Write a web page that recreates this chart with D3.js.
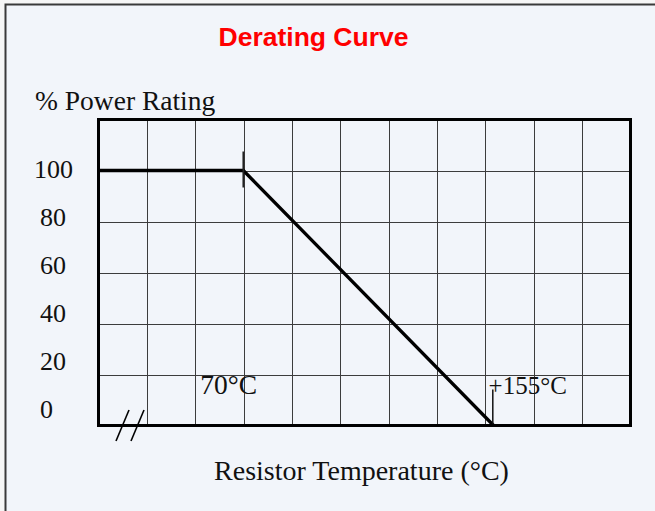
<!DOCTYPE html>
<html>
<head>
<meta charset="utf-8">
<script src="https://cdn.jsdelivr.net/npm/d3@7"></script>
<style>
  html, body { margin: 0; padding: 0; background: #f6f6f6; }
  svg { display: block; }
</style>
</head>
<body>
<script>
// ---- data ----
const title = "Derating Curve";
const yAxisTitle = "% Power Rating";
const xAxisTitle = "Resistor Temperature (°C)";
const yTickValues = [0, 20, 40, 60, 80, 100];
const yTickLabels = ["0", "20", "40", "60", "80", "100"];
const curveTemps = [20.8, 70, 155];
const curvePower = [100, 100, 0];
const markerTemps = [70, 155];
const markerLabels = ["70°C", "+155°C"];
const xDomain = [20.8, 201.5];
const yDomain = [0, 120];
const gridColumns = 11;

// ---- layout ----
const W = 655, H = 511;
const plot = { left: 98.5, right: 630.5, top: 119.5, bottom: 425.5 };

const svg = d3.select("body").append("svg")
  .attr("width", W).attr("height", H);

// outer panel
svg.append("rect")
  .attr("x", 5.5).attr("y", 4.5).attr("width", W + 10).attr("height", H + 10)
  .attr("fill", "#f2f5fa").attr("stroke", "#3a3a3a").attr("stroke-width", 2);

const x = d3.scaleLinear().domain(xDomain).range([plot.left, plot.right]);
const y = d3.scaleLinear().domain(yDomain).range([plot.bottom, plot.top]);
const col = d3.scaleLinear().domain([0, gridColumns]).range([plot.left, plot.right]);
// tick label placement scale (labels sit on a slightly tighter spacing than the grid)
const yLabel = d3.scaleLinear().domain([0, 100]).range([418, 178]);

// title
svg.append("text")
  .attr("x", 313.5).attr("y", 46)
  .attr("text-anchor", "middle")
  .attr("font-family", "'Liberation Sans', Arial, sans-serif")
  .attr("font-weight", "bold").attr("font-size", 26.5)
  .attr("fill", "#ff0000")
  .text(title);

// y axis title
svg.append("text")
  .attr("x", 35).attr("y", 110)
  .attr("font-family", "'Liberation Serif', 'Times New Roman', serif")
  .attr("font-size", 27.5).attr("fill", "#111")
  .text(yAxisTitle);

// grid
const g = svg.append("g");
g.selectAll("line.vg").data(d3.range(1, gridColumns))
  .join("line").attr("class", "vg")
  .attr("x1", d => Math.round(col(d)) + 0.5).attr("x2", d => Math.round(col(d)) + 0.5)
  .attr("y1", plot.top).attr("y2", plot.bottom)
  .attr("stroke", "#3c3c3c").attr("stroke-width", 1);

g.selectAll("line.hg").data(d3.range(20, yDomain[1], 20))
  .join("line").attr("class", "hg")
  .attr("y1", d => Math.round(y(d)) + 0.5).attr("y2", d => Math.round(y(d)) + 0.5)
  .attr("x1", plot.left).attr("x2", plot.right)
  .attr("stroke", "#3c3c3c").attr("stroke-width", 1);

// y tick labels
svg.selectAll("text.yl").data(yTickValues)
  .join("text").attr("class", "yl")
  .attr("x", 40).attr("y", d => yLabel(d))
  .attr("dx", (d, i) => yTickLabels[i].length > 2 ? -6 : 0)
  .attr("text-anchor", "start")
  .attr("font-family", "'Liberation Serif', 'Times New Roman', serif")
  .attr("font-size", 26).attr("fill", "#111")
  .text((d, i) => yTickLabels[i]);

// curve
const pts = curveTemps.map((t, i) => [t, curvePower[i]]);
svg.append("path")
  .datum(pts)
  .attr("d", d3.line().x(d => x(d[0])).y(d => y(d[1])))
  .attr("fill", "none").attr("stroke", "#000")
  .attr("stroke-width", 3.3).attr("stroke-linejoin", "miter");

// marker ticks
svg.append("line")
  .attr("x1", x(markerTemps[0])).attr("x2", x(markerTemps[0]))
  .attr("y1", y(100) - 19).attr("y2", y(100) + 17)
  .attr("stroke", "#222").attr("stroke-width", 1.8);
svg.append("line")
  .attr("x1", x(markerTemps[1]) - 0.8).attr("x2", x(markerTemps[1]) - 0.8)
  .attr("y1", y(0) - 36).attr("y2", y(0))
  .attr("stroke", "#111").attr("stroke-width", 1.5);

// marker labels
svg.append("text")
  .attr("x", x(markerTemps[0]) - 43).attr("y", 394)
  .attr("font-family", "'Liberation Serif', 'Times New Roman', serif")
  .attr("font-size", 27.5).attr("fill", "#111")
  .text(markerLabels[0]);
svg.append("text")
  .attr("x", x(markerTemps[1]) - 5).attr("y", 394)
  .attr("font-family", "'Liberation Serif', 'Times New Roman', serif")
  .attr("font-size", 25).attr("fill", "#111")
  .text(markerLabels[1]);

// plot border
svg.append("rect")
  .attr("x", plot.left).attr("y", plot.top)
  .attr("width", plot.right - plot.left).attr("height", plot.bottom - plot.top)
  .attr("fill", "none").attr("stroke", "#000").attr("stroke-width", 3);

// axis break marks
[0, 15].forEach(off => {
  svg.append("line")
    .attr("x1", plot.left + 30.5 + off).attr("y1", 410)
    .attr("x2", plot.left + 17.5 + off).attr("y2", 441)
    .attr("stroke", "#000").attr("stroke-width", 1.6);
});

// x axis title
svg.append("text")
  .attr("x", 361.5).attr("y", 480)
  .attr("text-anchor", "middle")
  .attr("font-family", "'Liberation Serif', 'Times New Roman', serif")
  .attr("font-size", 28).attr("fill", "#111")
  .text(xAxisTitle);
</script>
</body>
</html>
